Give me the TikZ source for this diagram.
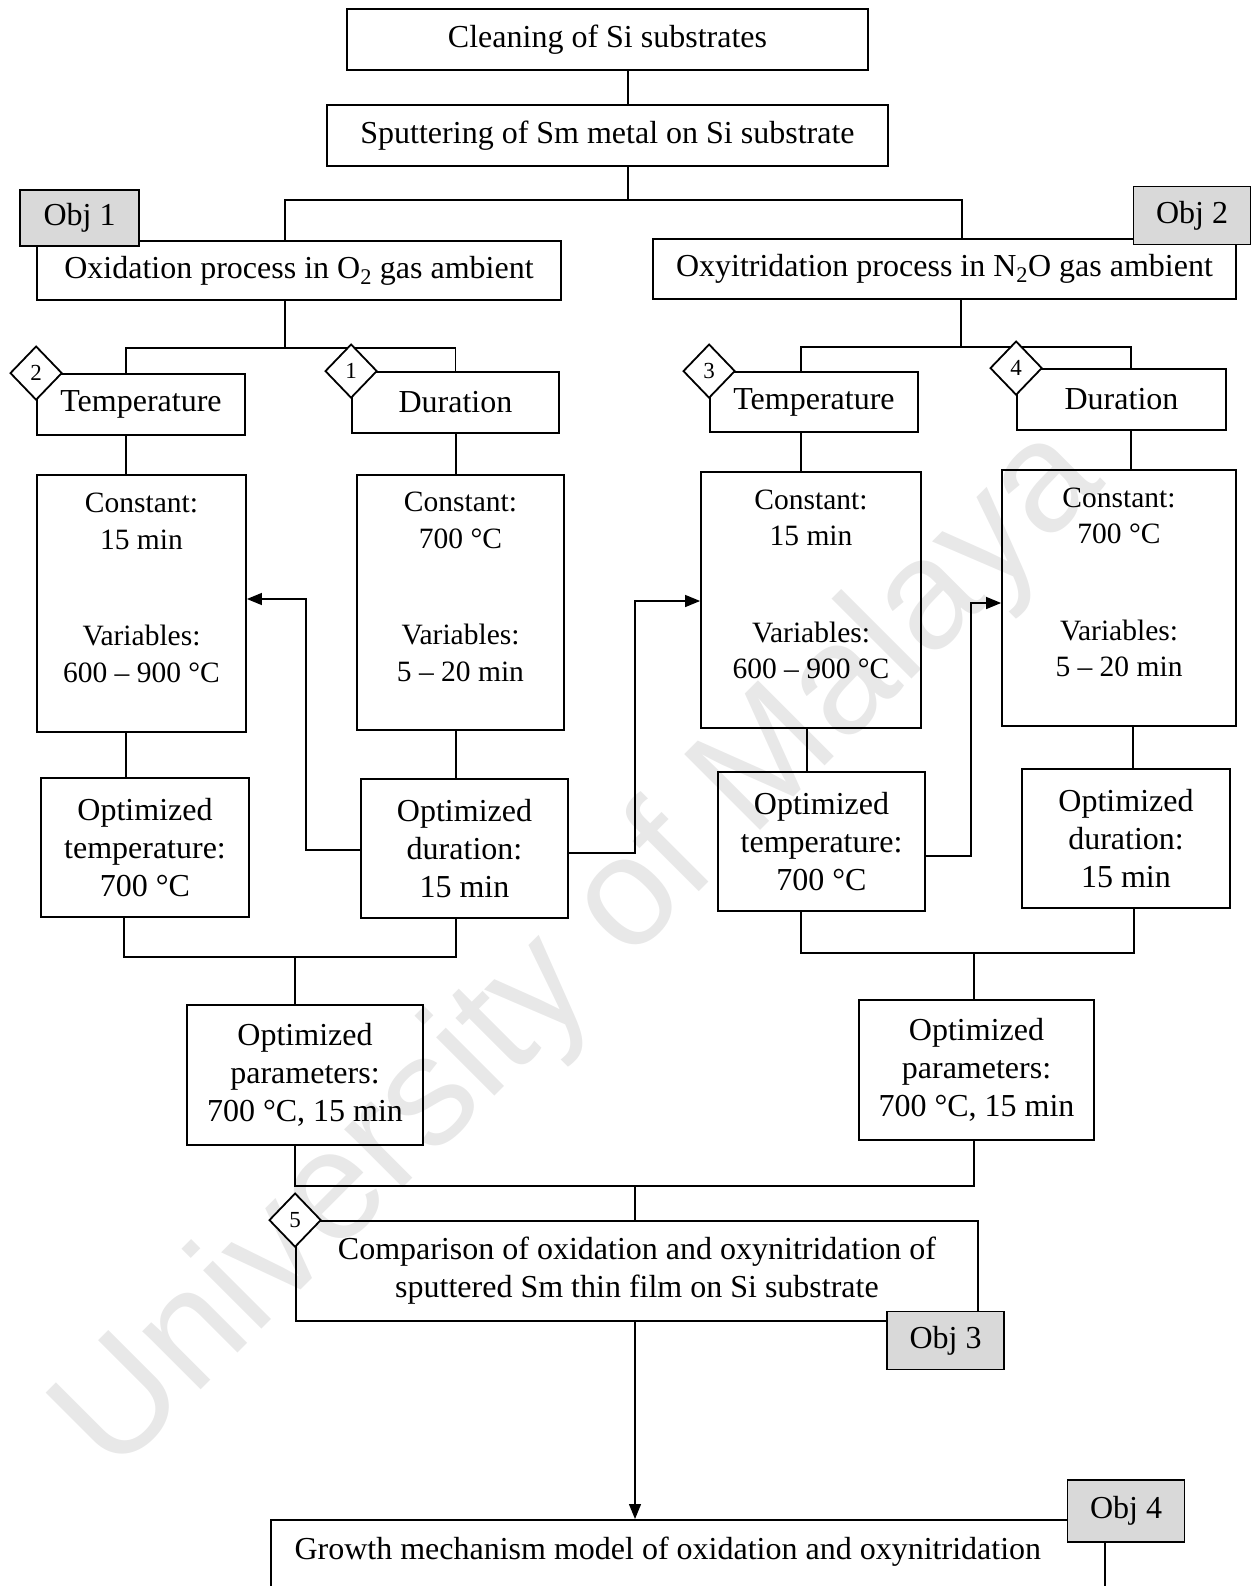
\documentclass[tikz,border=0pt]{standalone}
\usepackage{fontspec}
\setmainfont{Liberation Serif}
\newfontfamily\wmfont{Liberation Sans}
\usetikzlibrary{arrows.meta, shapes.geometric}

\tikzset{
  box/.style={draw, line width=1.8pt, align=center, inner sep=0pt},
  cbox/.style={box, font=\fontsize{29.5}{36.5}\selectfont},
  objbox/.style={box, fill=gray!30, minimum width=117, minimum height=58},
  numbox/.style={diamond, draw, line width=1.8pt, fill=white, inner sep=0pt,
    minimum width=52, minimum height=54, font=\fontsize{23}{26}\selectfont},
  link/.style={line width=1.3pt},
  arr/.style={link, -{Triangle[length=15pt, width=12pt]}},
}

\begin{document}
\begin{tikzpicture}[x=1pt, y=-1pt, font=\fontsize{32}{38}\selectfont]
\clip (0,0) rectangle (1254,1586);

% Watermark
\node[rotate=45, text=black!9, font=\wmfont\fontsize{156}{160}\selectfont] (wm) at (582,952) {University of Malaya};

% Substrate preparation
\node[box, minimum width=521, minimum height=61] (clean) at (607.5,39.5) {Cleaning of Si substrates};
\node[box, minimum width=561, minimum height=61] (sput) at (607.5,135.5) {Sputtering of Sm metal on Si substrate};

% Processes
\node[box, minimum width=524, minimum height=59] (oxid) at (299,270.5) {Oxidation process in O\textsubscript{2} gas ambient};
\node[box, minimum width=583, minimum height=60] (oxyn) at (944.5,269) {Oxyitridation process in N\textsubscript{2}O gas ambient};

% Parameters
\node[box, minimum width=208, minimum height=61] (tempL) at (141,404.5) {Temperature};
\node[box, minimum width=207, minimum height=61] (durL) at (455.5,402.5) {Duration};
\node[box, minimum width=208, minimum height=60] (tempR) at (814,402) {Temperature};
\node[box, minimum width=209, minimum height=61] (durR) at (1121.5,399.5) {Duration};

% Constant / variables
\node[cbox, minimum width=209, minimum height=257] (cL1) at (141.5,603.5) {Constant:\\15 min\\[60pt]Variables:\\600 – 900 °C\\[-5pt]\mbox{}};
\node[cbox, minimum width=207, minimum height=255] (cL2) at (460.5,602.5) {Constant:\\700 °C\\[60pt]Variables:\\5 – 20 min\\[-5pt]\mbox{}};
\node[cbox, minimum width=220, minimum height=256] (cR1) at (811,600) {Constant:\\15 min\\[60pt]Variables:\\600 – 900 °C\\[-5pt]\mbox{}};
\node[cbox, minimum width=234, minimum height=256] (cR2) at (1119,598) {Constant:\\700 °C\\[60pt]Variables:\\5 – 20 min\\[-5pt]\mbox{}};

% Optimized values
\node[box, minimum width=208, minimum height=139] (oL1) at (145,847.5) {Optimized\\temperature:\\700 °C};
\node[box, minimum width=207, minimum height=139] (oL2) at (464.5,848.5) {Optimized\\duration:\\15 min};
\node[box, minimum width=207, minimum height=139] (oR1) at (821.5,841.5) {Optimized\\temperature:\\700 °C};
\node[box, minimum width=208, minimum height=139] (oR2) at (1126,838.5) {Optimized\\duration:\\15 min};
\node[box, minimum width=236, minimum height=140] (oPL) at (305,1075) {Optimized\\parameters:\\700 °C, 15 min};
\node[box, minimum width=235, minimum height=140] (oPR) at (976.5,1070) {Optimized\\parameters:\\700 °C, 15 min};

% Comparison and growth model
\node[box, minimum width=682, minimum height=100] (comp) at (637,1271) {Comparison of oxidation and oxynitridation of\\sputtered Sm thin film on Si substrate};
\node[box, anchor=north west, minimum width=834, minimum height=150] (growth) at (270,1519) {};
\node[anchor=west] (growtht) at (291,1552) {Growth mechanism model of oxidation and oxynitridation};

% Main spine
\draw[link] (clean.south -| 628,0) -- (sput.north -| 628,0);
\draw[link] (sput.south -| 628,0) -- (628,200);
\draw[link] (oxid.north -| 285,0) |- (628,200) -| (oxyn.north -| 962,0);

% Branches
\draw[link] (oxid.south -| 285,0) -- (285,348);
\draw[link] (tempL.north -| 126,0) |- (285,348) -| (durL.north);
\draw[link] (oxyn.south -| 961,0) -- (961,347);
\draw[link] (tempR.north -| 801,0) |- (961,347) -| (durR.north -| 1131,0);

\draw[link] (tempL.south -| 126,0) -- (cL1.north -| 126,0);
\draw[link] (durL.south -| 456,0) -- (cL2.north -| 456,0);
\draw[link] (tempR.south -| 801,0) -- (cR1.north -| 801,0);
\draw[link] (durR.south -| 1131,0) -- (cR2.north -| 1131,0);

\draw[link] (cL1.south -| 126,0) -- (oL1.north -| 126,0);
\draw[link] (cL2.south -| 456,0) -- (oL2.north -| 456,0);
\draw[link] (cR1.south -| 807,0) -- (oR1.north -| 807,0);
\draw[link] (cR2.south -| 1133,0) -- (oR2.north -| 1133,0);

% Feed-forward arrows
\draw[arr] (oL2.west |- 0,850) -- (306,850) |- (cL1.east |- 0,599);
\draw[arr] (oL2.east |- 0,853) -- (635,853) |- (cR1.west |- 0,601);
\draw[arr] (oR1.east |- 0,856) -- (971,856) |- (cR2.west |- 0,603);

% Joins
\draw[link] (oL1.south -| 124,0) -- (124,957) -- (456,957) -- (oL2.south -| 456,0);
\draw[link] (295,957) -- (oPL.north -| 295,0);
\draw[link] (oR1.south -| 801,0) -- (801,953) -- (1134,953) -- (oR2.south -| 1134,0);
\draw[link] (974,953) -- (oPR.north -| 974,0);
\draw[link] (oPL.south -| 295,0) -- (295,1186) -- (974,1186) -- (oPR.south -| 974,0);
\draw[link] (635,1186) -- (comp.north -| 635,0);
\draw[arr] (comp.south -| 635,0) -- (growth.north -| 635,0);

% Objectives
\node[objbox, minimum width=119, minimum height=56] (obj1) at (79.5,218) {Obj 1};
\node[objbox] (obj2) at (1192,215.5) {Obj 2};
\node[objbox] (obj3) at (945.5,1340.5) {Obj 3};
\node[objbox, minimum height=62] (obj4) at (1126,1511) {Obj 4};

% Step numbers
\node[numbox] (n2) at (tempL.north west) {2};
\node[numbox] (n1) at (durL.north west) {1};
\node[numbox] (n3) at (tempR.north west) {3};
\node[numbox] (n4) at (durR.north west) {4};
\node[numbox] (n5) at (comp.north west) {5};

\end{tikzpicture}
\end{document}
